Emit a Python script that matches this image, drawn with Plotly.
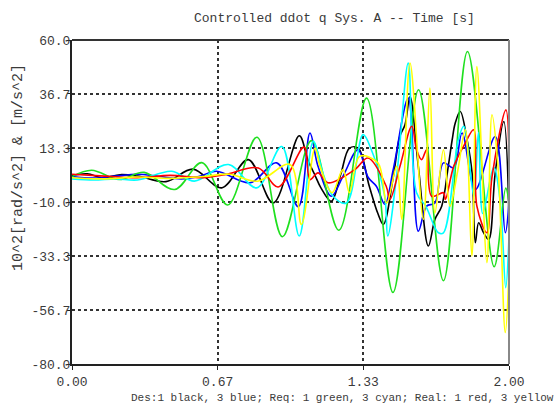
import plotly.graph_objects as go

# Time samples and accelerations (10^2 rad/s^2 & m/s^2) for each trace
des1_t = [0.0, 0.07, 0.14, 0.22, 0.30, 0.43, 0.554, 0.685, 0.807, 0.921, 1.04, 1.08, 1.11, 1.14, 1.187,
          1.23, 1.27, 1.31, 1.36, 1.40, 1.425, 1.47, 1.50, 1.524, 1.547, 1.585, 1.631, 1.661, 1.692,
          1.722, 1.74, 1.754, 1.777, 1.808, 1.831, 1.846, 1.861, 1.884, 1.907, 1.937, 1.976, 2.0]
des1_v = [1.5, 2.2, 0.5, 1.8, 1.2, -1.2, 4.2, -3.9, 8.3, -10.4, 18.6, 8.0, 2.0, -4.0, -9.7,
          2.0, 13.3, 13.3, -3.0, -15.0, -19.7, 0.7, 18.3, 23.4, 35.6, 5.4, -29.0, -17.5, -11.8,
          5.4, 16.9, 24.1, 29.1, 16.9, 2.6, -27.6, -19.0, -23.3, -26.2, 2.6, 24.8, -18.0]

des3_t = [0.0, 0.1, 0.2, 0.3, 0.4, 0.5, 0.58, 0.662, 0.815, 0.937, 1.036, 1.089, 1.126, 1.187, 1.24,
          1.309, 1.355, 1.393, 1.432, 1.47, 1.539, 1.585, 1.623, 1.661, 1.70, 1.747, 1.785, 1.846,
          1.937, 1.983, 2.0]
des3_v = [1.0, 0.3, 1.2, 2.0, 1.0, 0.0, 1.0, 3.3, -1.7, 6.9, -12.0, 19.8, 5.4, -7.5, 1.1,
          12.6, 0.7, -3.2, -11.0, 4.0, 34.9, -22.6, -11.8, -10.4, 6.9, 4.7, 19.8, -4.6,
          18.3, -23.3, -10.0]

req1_t = [0.0, 0.09, 0.215, 0.33, 0.47, 0.594, 0.712, 0.846, 0.963, 1.096, 1.221, 1.348, 1.469,
          1.586, 1.70, 1.81, 1.932, 1.985, 2.0]
req1_v = [1.0, 3.7, -0.3, 2.8, -4.6, 7.0, -11.3, 18.0, -25.0, 16.5, -22.2, 34.9, -49.1,
          38.5, -44.0, 55.0, -38.0, -4.0, -10.0]

req3_t = [0.0, 0.1, 0.2, 0.3, 0.457, 0.56, 0.716, 0.845, 0.96, 1.04, 1.104, 1.15, 1.195, 1.256,
          1.332, 1.37, 1.431, 1.445, 1.49, 1.539, 1.577, 1.62, 1.677, 1.70, 1.768, 1.793, 1.839,
          1.86, 1.88, 1.93, 1.96, 1.985, 2.0]
req3_v = [0.0, -0.5, 0.0, -0.5, 3.3, -1.0, 6.2, -3.9, 14.0, -24.7, 16.2, 2.0, -7.5, -10.4,
          19.1, 12.6, -7.5, -24.7, 5.0, 50.0, -6.0, -12.0, -23.3, -23.3, 16.9, 22.7, -7.5,
          20.0, -15.0, 5.0, -10.0, -47.0, -25.0]

real1_t = [0.0, 0.15, 0.3, 0.45, 0.6, 0.70, 0.853, 0.944, 1.062, 1.089, 1.126, 1.172, 1.294,
           1.355, 1.438, 1.455, 1.501, 1.555, 1.577, 1.60, 1.623, 1.646, 1.70, 1.709, 1.747,
           1.80, 1.838, 1.853, 1.899, 1.922, 1.986, 2.0]
real1_v = [2.0, 1.2, 0.5, 1.5, 0.5, 1.8, 4.7, -3.5, 13.7, -0.3, 2.6, -1.7, 4.0,
           9.0, -3.2, -8.9, 5.4, 22.7, 12.6, 8.3, 12.6, -7.5, -6.0, -8.9, 5.4,
           15.5, 21.2, -11.8, -23.3, 0.7, 29.8, 5.0]

real3_t = [0.0, 0.15, 0.3, 0.45, 0.6, 0.72, 0.85, 0.998, 1.05, 1.112, 1.135, 1.19, 1.24, 1.27,
           1.317, 1.40, 1.44, 1.486, 1.509, 1.547, 1.608, 1.638, 1.661, 1.70, 1.73, 1.765, 1.80,
           1.83, 1.853, 1.899, 1.922, 1.95, 1.983, 2.0]
real3_v = [0.5, 0.0, 0.8, 0.2, 1.0, 2.0, -1.0, 6.2, -19.7, 13.3, 5.4, -6.0, 4.0, -6.0,
           9.7, 6.9, -10.4, 5.4, -17.5, 50.0, -17.5, 39.2, -14.7, 12.6, -11.8, 3.3, 21.2,
           -33.4, 48.5, -36.2, 27.7, 5.0, -66.4, -40.0]

y_ticks = [-80.0, -56.67, -33.33, -10.0, 13.33, 36.67, 60.0]
y_tick_text = ["-80.0", "-56.7", "-33.3", "-10.0", "13.3", "36.7", "60.0"]
x_ticks = [0.0, 0.6667, 1.3333, 2.0]
x_tick_text = ["0.00", "0.67", "1.33", "2.00"]

MONO = "Liberation Mono, Courier New, monospace"

traces = [
    (des1_t, des1_v, "#000000"),
    (des3_t, des3_v, "#0000ff"),
    (req1_t, req1_v, "#1fe01f"),
    (req3_t, req3_v, "#00ffff"),
    (real1_t, real1_v, "#ff0000"),
    (real3_t, real3_v, "#ffff00"),
]

fig = go.Figure()
for t, v, c in traces:
    fig.add_trace(go.Scatter(x=t, y=v, mode="lines",
                             line=dict(color=c, width=1.6, shape="spline", smoothing=1.0),
                             showlegend=False, hoverinfo="skip"))

fig.update_layout(
    width=560, height=408,
    margin=dict(l=72, r=51, t=40, b=44),
    paper_bgcolor="white", plot_bgcolor="white",
    font=dict(family=MONO, color="#3a3a3a", size=13),
    xaxis=dict(range=[0, 2], tickvals=x_ticks, ticktext=x_tick_text,
               showgrid=True, gridcolor="#333333", gridwidth=1.5, griddash="3px,3px",
               showline=True, linecolor="#222222", linewidth=2,
               ticks="outside", ticklen=4, tickcolor="#222222",
               zeroline=False, fixedrange=True,
               tickfont=dict(family=MONO, size=13, color="#3a3a3a")),
    yaxis=dict(range=[-80, 60], tickvals=y_ticks, ticktext=y_tick_text,
               showgrid=True, gridcolor="#333333", gridwidth=1.5, griddash="3px,3px",
               showline=True, linecolor="#222222", linewidth=2,
               ticks="outside", ticklen=3, tickcolor="#222222",
               ticklabelstandoff=-6,
               zeroline=False, fixedrange=True,
               tickfont=dict(family=MONO, size=13, color="#3a3a3a")),
    shapes=[
        dict(type="line", xref="paper", yref="paper", x0=0, x1=1, y0=1, y1=1,
             line=dict(color="#333333", width=2)),
        dict(type="line", xref="paper", yref="paper", x0=1, x1=1, y0=0, y1=1,
             line=dict(color="#888888", width=2)),
    ],
    annotations=[
        dict(text="Controlled ddot q Sys. A -- Time [s]", xref="paper", yref="paper",
             x=(334 - 72) / 437, y=1.0, yshift=22, showarrow=False,
             xanchor="center", yanchor="middle",
             font=dict(family=MONO, size=13, color="#3a3a3a")),
        dict(text="10^2[rad/s^2] & [m/s^2]", xref="paper", yref="paper",
             x=0, xshift=-54, y=(364 - 168) / 324, textangle=-90, showarrow=False,
             xanchor="center", yanchor="middle",
             font=dict(family=MONO, size=15, color="#3a3a3a")),
        dict(text="Des:1 black, 3 blue; Req: 1 green, 3 cyan; Real: 1 red, 3 yellow",
             xref="paper", yref="paper", x=1, xshift=47, y=0, yshift=-34,
             showarrow=False, xanchor="right", yanchor="middle",
             font=dict(family=MONO, size=11, color="#3a3a3a")),
    ],
)

fig.write_html("out.html")
